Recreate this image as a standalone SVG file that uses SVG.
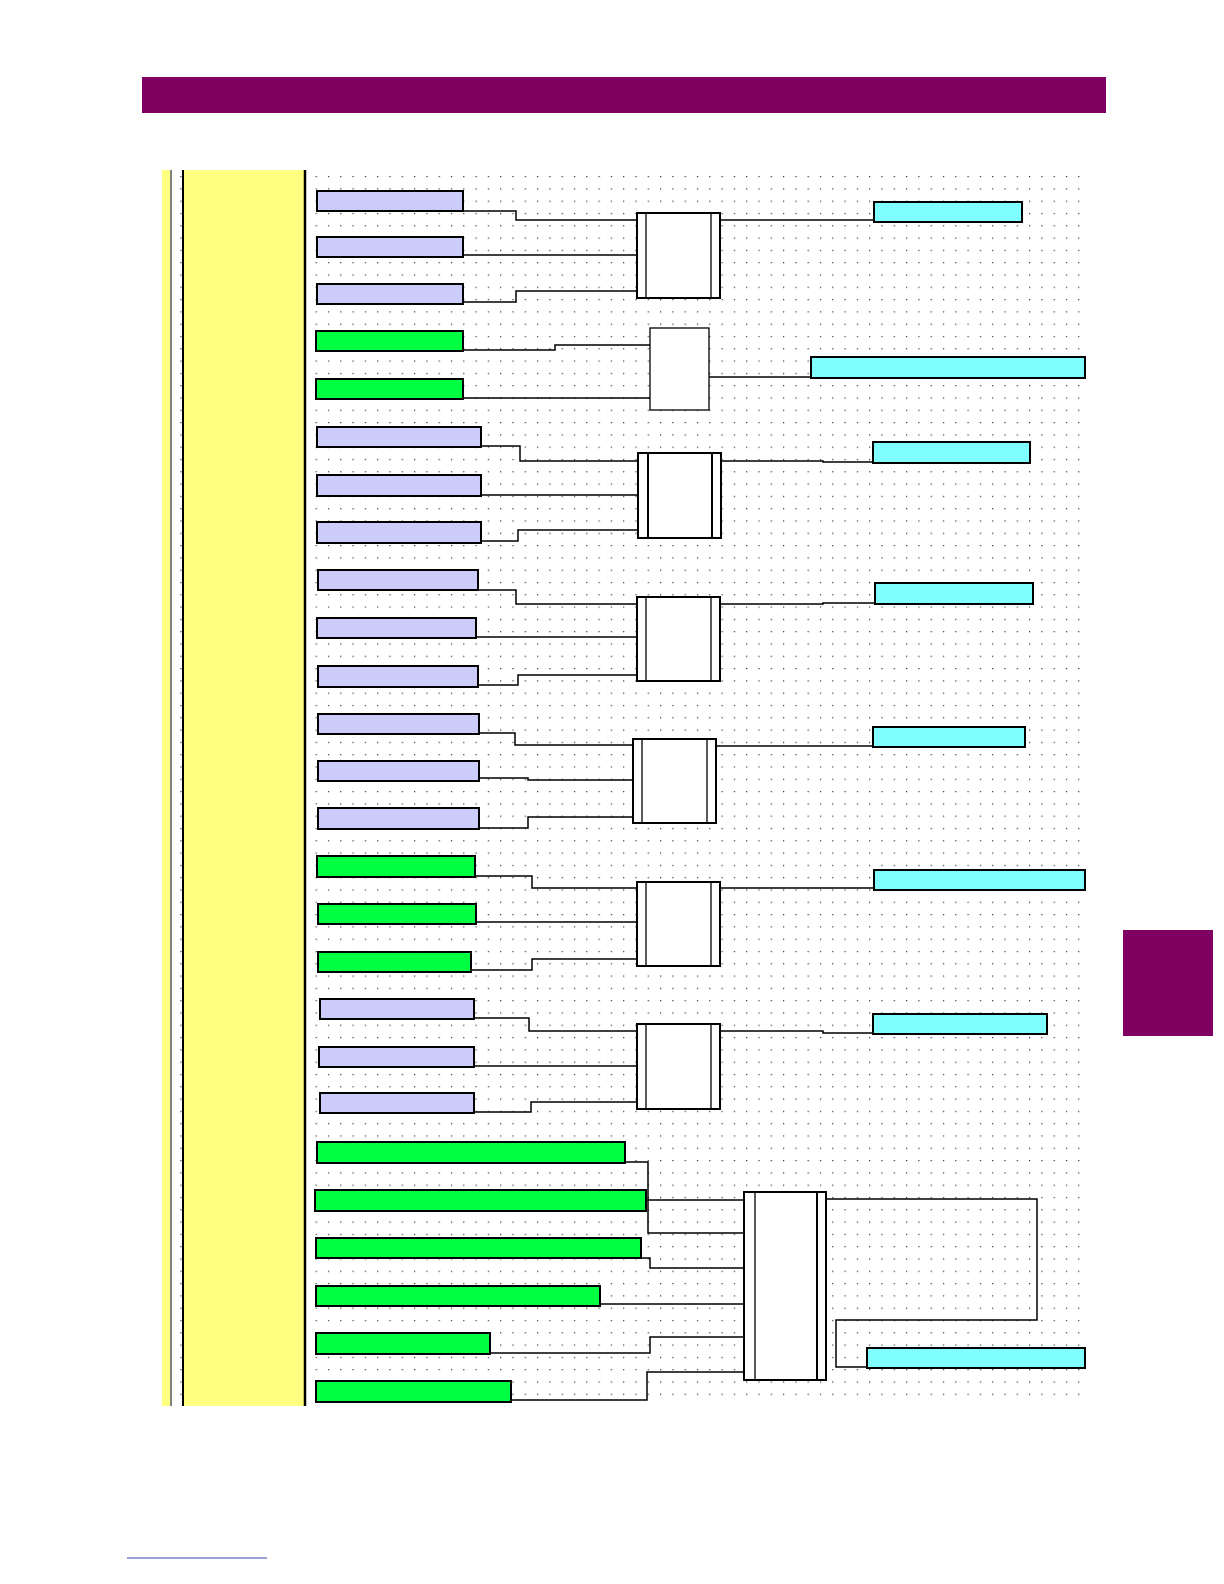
<svg xmlns="http://www.w3.org/2000/svg" width="1224" height="1584" viewBox="0 0 1224 1584">
<defs>
<pattern id="dots" x="168" y="176" width="12.3" height="12.3" patternUnits="userSpaceOnUse"><rect x="0" y="0" width="1.2" height="1.2" fill="#333"/></pattern>
<style>
.lav{fill:#ccccfa;stroke:#000;stroke-width:2}
.grn{fill:#00ff40;stroke:#000;stroke-width:2}
.cyn{fill:#80ffff;stroke:#000;stroke-width:2}
.box{fill:#fff;stroke:#000;stroke-width:2}
.in{stroke:#000;stroke-width:1.3}
.w{fill:none;stroke:#000;stroke-width:1.5}
</style>
</defs>
<rect width="1224" height="1584" fill="#fff"/>
<rect x="142" y="77" width="964" height="36" fill="#7f0060"/>
<rect x="1123" y="930" width="90" height="106" fill="#7f0060"/>
<line x1="127" y1="1558" x2="267" y2="1558" stroke="#3344aa" stroke-width="1"/>
<rect x="165" y="172" width="920" height="1233" fill="url(#dots)"/>
<g id="sidebar">
<rect x="162" y="170" width="8" height="1236" fill="#ffff80"/>
<rect x="183" y="170" width="122" height="1236" fill="#ffff80"/>
<line x1="171" y1="170" x2="171" y2="1406" stroke="#000" stroke-width="1"/>
<line x1="183" y1="170" x2="183" y2="1406" stroke="#000" stroke-width="2"/>
<line x1="305" y1="170" x2="305" y2="1406" stroke="#000" stroke-width="2.5"/>
</g>
<g id="connectors" class="w">
<polyline points="463,211 516,211 516,220 637,220"/>
<polyline points="463,255 637,255"/>
<polyline points="463,302 516,302 516,291 637,291"/>
<polyline points="720,220 874,220"/>
<polyline points="463,350 555,350 555,345 650,345"/>
<polyline points="463,398 650,398"/>
<polyline points="709,377 811,377"/>
<polyline points="481,446 520,446 520,461 638,461"/>
<polyline points="481,495 638,495"/>
<polyline points="481,541 518,541 518,530 638,530"/>
<polyline points="721,461 823,461 823,462 873,462"/>
<polyline points="478,590 516,590 516,604 637,604"/>
<polyline points="476,637 637,637"/>
<polyline points="478,685 518,685 518,675 637,675"/>
<polyline points="720,604 823,604 823,603 875,603"/>
<polyline points="479,733 515,733 515,745 633,745"/>
<polyline points="479,778 528,778 528,780 633,780"/>
<polyline points="479,828 528,828 528,817 633,817"/>
<polyline points="716,746 873,746"/>
<polyline points="475,876 532,876 532,888 637,888"/>
<polyline points="476,922 637,922"/>
<polyline points="471,970 532,970 532,959 637,959"/>
<polyline points="720,888 874,888"/>
<polyline points="474,1018 529,1018 529,1031 637,1031"/>
<polyline points="474,1066 637,1066"/>
<polyline points="474,1112 531,1112 531,1102 637,1102"/>
<polyline points="720,1031 823,1031 823,1033 873,1033"/>
<polyline points="625,1162 648,1162 648,1233 744,1233"/>
<polyline points="646,1200 744,1200"/>
<polyline points="641,1258 650,1258 650,1268 744,1268"/>
<polyline points="600,1304 744,1304"/>
<polyline points="490,1353 650,1353 650,1337 744,1337"/>
<polyline points="511,1400 647,1400 647,1372 744,1372"/>
<polyline points="826,1199 1037,1199 1037,1320 836,1320 836,1367 867,1367"/>
</g>
<g id="g1"><rect class="lav" x="317" y="191" width="146" height="20"/><rect class="lav" x="317" y="237" width="146" height="20"/><rect class="lav" x="317" y="284" width="146" height="20"/>
<rect class="box" x="637" y="213" width="83" height="85"/><line class="in" x1="646" y1="213" x2="646" y2="298"/><line class="in" x1="711" y1="213" x2="711" y2="298"/><rect class="cyn" x="874" y="202" width="148" height="20"/></g>
<g id="g2"><rect class="grn" x="316" y="331" width="147" height="20"/><rect class="grn" x="316" y="379" width="147" height="20"/>
<rect class="box" x="650" y="328" width="59" height="82" style="stroke-width:1.3"/><rect class="cyn" x="811" y="357" width="274" height="21"/></g>
<g id="g3"><rect class="lav" x="317" y="427" width="164" height="20"/><rect class="lav" x="317" y="475" width="164" height="21"/><rect class="lav" x="317" y="522" width="164" height="21"/>
<rect class="box" x="638" y="453" width="83" height="85"/><line class="in" x1="648" y1="453" x2="648" y2="538" style="stroke-width:2"/><line class="in" x1="712" y1="453" x2="712" y2="538" style="stroke-width:2"/><rect class="cyn" x="873" y="442" width="157" height="21"/></g>
<g id="g4"><rect class="lav" x="318" y="570" width="160" height="20"/><rect class="lav" x="317" y="618" width="159" height="20"/><rect class="lav" x="318" y="666" width="160" height="21"/>
<rect class="box" x="637" y="597" width="83" height="84"/><line class="in" x1="646" y1="597" x2="646" y2="681"/><line class="in" x1="711" y1="597" x2="711" y2="681"/><rect class="cyn" x="875" y="583" width="158" height="21"/></g>
<g id="g5"><rect class="lav" x="318" y="714" width="161" height="20"/><rect class="lav" x="318" y="761" width="161" height="20"/><rect class="lav" x="318" y="808" width="161" height="21"/>
<rect class="box" x="633" y="739" width="83" height="84"/><line class="in" x1="642" y1="739" x2="642" y2="823"/><line class="in" x1="707" y1="739" x2="707" y2="823"/><rect class="cyn" x="873" y="727" width="152" height="20"/></g>
<g id="g6"><rect class="grn" x="317" y="856" width="158" height="21"/><rect class="grn" x="318" y="904" width="158" height="20"/><rect class="grn" x="318" y="952" width="153" height="20"/>
<rect class="box" x="637" y="882" width="83" height="84"/><line class="in" x1="646" y1="882" x2="646" y2="966"/><line class="in" x1="711" y1="882" x2="711" y2="966"/><rect class="cyn" x="874" y="870" width="211" height="20"/></g>
<g id="g7"><rect class="lav" x="320" y="999" width="154" height="20"/><rect class="lav" x="319" y="1047" width="155" height="20"/><rect class="lav" x="320" y="1093" width="154" height="20"/>
<rect class="box" x="637" y="1024" width="83" height="85"/><line class="in" x1="646" y1="1024" x2="646" y2="1109"/><line class="in" x1="711" y1="1024" x2="711" y2="1109"/><rect class="cyn" x="873" y="1014" width="174" height="20"/></g>
<g id="g8"><rect class="grn" x="317" y="1142" width="308" height="21"/><rect class="grn" x="315" y="1190" width="331" height="21"/><rect class="grn" x="316" y="1238" width="325" height="20"/><rect class="grn" x="316" y="1286" width="284" height="20"/><rect class="grn" x="316" y="1333" width="174" height="21"/><rect class="grn" x="316" y="1381" width="195" height="21"/>
<rect class="box" x="744" y="1192" width="82" height="188"/><line class="in" x1="755" y1="1192" x2="755" y2="1380"/><line class="in" x1="817" y1="1192" x2="817" y2="1380" style="stroke-width:2"/><rect class="cyn" x="867" y="1348" width="218" height="20"/></g>
</svg>
